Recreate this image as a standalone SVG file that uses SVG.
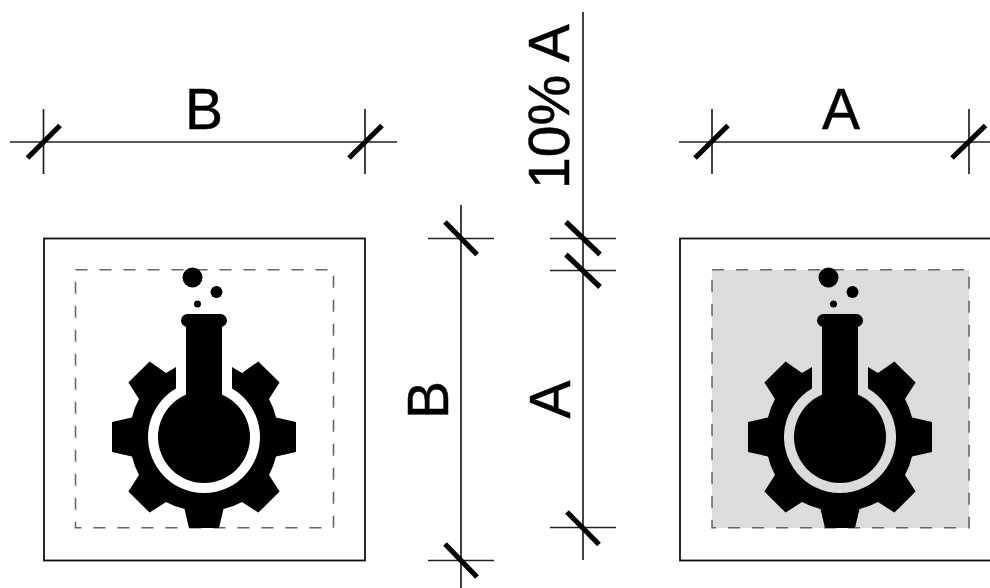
<svg xmlns="http://www.w3.org/2000/svg" width="990" height="588" viewBox="0 0 990 588">
<style>
.box{fill:none;stroke:#111;stroke-width:1.8}
.dash{fill:none;stroke:#666;stroke-width:1.6;stroke-dasharray:12 12}
.dim{stroke:#222;stroke-width:1.7;fill:none}
.tick{stroke:#000;stroke-width:5.2;fill:none}
.t{font-family:"Liberation Sans",Arial,sans-serif;font-size:57px;fill:#000;stroke:#000;stroke-width:.5}
</style>
<defs>
<g id="icon">
<path d="M28-70L38-64L54.4-75.6L75.6-54.4L65-38A75 75 0 0 1 72-19.5L92-15V15L72 19.5A75 75 0 0 1 65 38L75.6 54.4L54.4 75.6L38 65A75 75 0 0 1 19.5 72L15 91H-15L-19.5 72A75 75 0 0 1-38 65L-54.4 75.6L-75.6 54.4L-65 38A75 75 0 0 1-72 19.5L-92 15V-15L-72-19.5A75 75 0 0 1-65-38L-75.6-54.4L-54.4-75.6L-38-64L-28-70V-48.5A56 56 0 1 0 28-48.5Z"/>
<circle cx="0" cy="0" r="46"/>
<rect x="-18" y="-115" width="36" height="80"/>
<rect x="-23" y="-123" width="46" height="13" rx="6.5"/>
<circle cx="-11.5" cy="-159.5" r="10"/>
<circle cx="12.5" cy="-145" r="6"/>
<circle cx="-6.5" cy="-133" r="3.5"/>
</g>
</defs>
<rect width="990" height="588" fill="#fff"/>
<g id="left-plate">
<rect class="box" x="44" y="238.5" width="321" height="322"/>
<rect class="dash" x="75.5" y="269.75" width="258" height="258"/>
<use href="#icon" x="204" y="437"/>
</g>
<g id="right-plate">
<rect x="712" y="270" width="257" height="258" fill="#dcdcdc"/>
<rect class="box" x="680" y="238.5" width="321" height="322"/>
<rect class="dash" x="712" y="269.75" width="257" height="258"/>
<use href="#icon" x="840" y="437"/>
</g>
<g id="connectors">
<path class="dim" d="M10 142H397M43.5 109V174M365 109V174"/>
<path class="tick" d="M27.5 158L60 125.5M349 158L382 125.5"/>
<path class="dim" d="M679 142H990M712 109V174M969 109V174"/>
<path class="tick" d="M695 158L728 125.5M952 158L985.5 125.5"/>
<path class="dim" d="M461 205V588M428 238.5H494M428 560.5H494"/>
<path class="tick" d="M445 222L477 254.5M445 544L477 577"/>
<path class="dim" d="M583 12V560M550 238.5H616M550 270.5H616M550 527.5H616"/>
<path class="tick" d="M566 222L600 254.5M566 254.5L600 287M567 512L599 544.5"/>
</g>
<g id="labels">
<text class="t" x="185" y="129">B</text>
<text class="t" x="841" y="129" text-anchor="middle">A</text>
<text class="t" transform="translate(448 419) rotate(-90)">B</text>
<text class="t" transform="translate(570 399.5) rotate(-90)" text-anchor="middle">A</text>
<text class="t" transform="translate(569 189) rotate(-90)">10% A</text>
</g>
</svg>
